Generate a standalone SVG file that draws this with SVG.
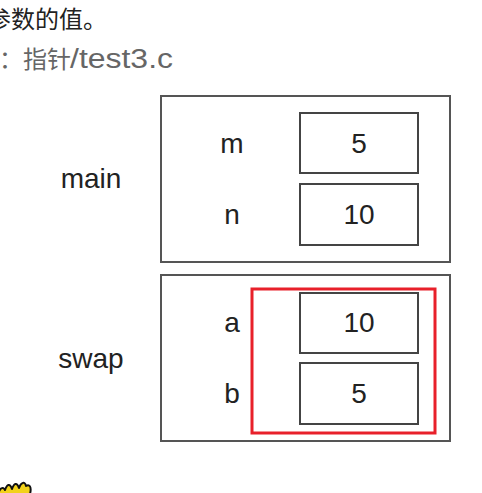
<svg xmlns="http://www.w3.org/2000/svg" width="482" height="493" viewBox="0 0 482 493">
<style>
.frame{fill:#fff;stroke:#555;stroke-width:2}
.cell{fill:#fff;stroke:#444;stroke-width:2}
.lbl{font-family:"Liberation Sans",Arial,sans-serif;font-size:28px;fill:#222;text-anchor:middle}
.cjk{font-family:"Noto Sans CJK SC","Liberation Sans",sans-serif;font-size:24px}
.hl{fill:none;stroke:#e8202a;stroke-width:3}
</style>
<rect width="482" height="493" fill="#fff"/>
<g id="header">
<text class="cjk" x="-13" y="28" fill="#222">参数的值。</text>
<text class="cjk" x="-1" y="68" fill="#666">：指针</text>
<text x="70" y="68" font-family="'Liberation Sans',Arial,sans-serif" font-size="27" fill="#666" textLength="103" lengthAdjust="spacingAndGlyphs">/test3.c</text>
</g>
<g id="main">
<rect class="frame" x="161" y="96" width="289" height="166"/>
<text class="lbl" x="91" y="188">main</text>
<text class="lbl" x="232" y="153">m</text>
<text class="lbl" x="232" y="224">n</text>
</g>
<g id="main-m">
<rect class="cell" x="300" y="113" width="118" height="60"/>
<text class="lbl" x="359" y="153">5</text>
</g>
<g id="main-n">
<rect class="cell" x="300" y="184" width="118" height="61"/>
<text class="lbl" x="359" y="224">10</text>
</g>
<g id="swap">
<rect class="frame" x="161" y="275" width="289" height="166"/>
<text class="lbl" x="91" y="368">swap</text>
<text class="lbl" x="232" y="332">a</text>
<text class="lbl" x="232" y="403">b</text>
</g>
<g id="swap-a">
<rect class="cell" x="300" y="293" width="118" height="60"/>
<text class="lbl" x="359" y="332">10</text>
</g>
<g id="swap-b">
<rect class="cell" x="300" y="363" width="118" height="61"/>
<text class="lbl" x="359" y="403">5</text>
</g>
<g id="highlight">
<rect class="hl" x="252" y="289" width="183" height="144"/>
</g>
<g id="connectors"></g>
<g id="sticker">
<path d="M-2,494 C0,488 3,486 5,490 C7,484 10,483 12,489 C14,483 17,482 19,488 C21,482 25,481 26,486 C29,484 32,486 30,494 Z" fill="#f2d21b" stroke="#111" stroke-width="2" stroke-linejoin="round"/>
</g>
</svg>
